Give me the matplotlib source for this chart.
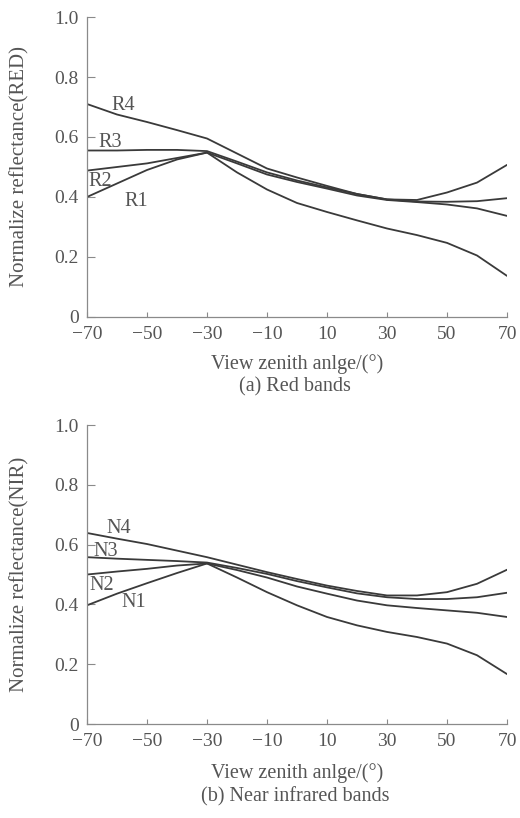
import matplotlib
matplotlib.use("Agg")
import matplotlib.pyplot as plt

# view zenith angle (degrees)
angles = [-70, -60, -50, -40, -30, -20, -10, 0, 10, 20, 30, 40, 50, 60, 70]

# (a) red bands
r1 = [0.400, 0.445, 0.490, 0.525, 0.548, 0.482, 0.425, 0.380, 0.350, 0.322, 0.295, 0.273, 0.247, 0.205, 0.137]
r2 = [0.488, 0.500, 0.512, 0.530, 0.548, 0.512, 0.475, 0.450, 0.428, 0.405, 0.390, 0.383, 0.375, 0.362, 0.337]
r3 = [0.555, 0.555, 0.557, 0.557, 0.553, 0.518, 0.482, 0.455, 0.432, 0.410, 0.392, 0.385, 0.384, 0.386, 0.396]
r4 = [0.710, 0.675, 0.650, 0.623, 0.595, 0.545, 0.495, 0.465, 0.437, 0.410, 0.392, 0.390, 0.415, 0.448, 0.507]

# (b) near infrared bands
n1 = [0.397, 0.436, 0.471, 0.505, 0.537, 0.490, 0.441, 0.397, 0.358, 0.330, 0.308, 0.291, 0.269, 0.230, 0.167]
n2 = [0.500, 0.510, 0.519, 0.530, 0.537, 0.515, 0.490, 0.460, 0.436, 0.413, 0.397, 0.388, 0.380, 0.372, 0.358]
n3 = [0.558, 0.553, 0.549, 0.545, 0.540, 0.522, 0.502, 0.478, 0.457, 0.437, 0.424, 0.418, 0.418, 0.424, 0.439]
n4 = [0.639, 0.620, 0.602, 0.580, 0.558, 0.533, 0.508, 0.485, 0.463, 0.445, 0.430, 0.430, 0.441, 0.469, 0.516]

red_names = ["R1", "R2", "R3", "R4"]
red_label_pos = [(-53.5, 0.385), (-65.7, 0.450), (-62.3, 0.583), (-58.0, 0.705)]
nir_names = ["N1", "N2", "N3", "N4"]
nir_label_pos = [(-54.5, 0.405), (-65.0, 0.463), (-63.7, 0.577), (-59.5, 0.653)]

xticks = [-70, -50, -30, -10, 10, 30, 50, 70]
xtick_labels = ["\u221270", "\u221250", "\u221230", "\u221210", "10", "30", "50", "70"]
yticks = [0, 0.2, 0.4, 0.6, 0.8, 1.0]
ytick_labels = ["0", "0.2", "0.4", "0.6", "0.8", "1.0"]

TEXT = "#555555"
LINE = "#3a3a3a"
AXIS = "#8a8a8a"
FS_TICK = 14
FS_LABEL = 14.5

plt.rcParams["font.family"] = ["Liberation Serif", "DejaVu Serif"]
plt.rcParams["font.size"] = FS_TICK

fig = plt.figure(figsize=(5.2, 8.18), dpi=100)
ax_top = fig.add_axes([0.1673, 0.6125, 0.8077, 0.3667])
ax_bot = fig.add_axes([0.1673, 0.1149, 0.8077, 0.3655])


def draw_panel(ax, series, names, label_pos, ylabel, xlab_y):
    for ys in series:
        ax.plot(angles, ys, color=LINE, lw=1.3, solid_capstyle="round")
    for name, (x, y) in zip(names, label_pos):
        ax.text(x, y, name, color=TEXT, fontsize=FS_LABEL, ha="center", va="center")

    ax.set_xlim(-70, 70)
    ax.set_ylim(0, 1.0)
    ax.spines["top"].set_visible(False)
    ax.spines["right"].set_visible(False)
    for s in ("left", "bottom"):
        ax.spines[s].set_color(AXIS)
        ax.spines[s].set_linewidth(0.9)

    ax.set_xticks(xticks)
    ax.set_xticklabels(xtick_labels)
    ax.set_yticks(yticks)
    ax.set_yticklabels(ytick_labels)
    ax.tick_params(axis="x", direction="in", length=3.5, width=0.8,
                   color=AXIS, labelcolor=TEXT, labelsize=FS_TICK, pad=6.2)
    ax.tick_params(axis="y", direction="in", length=5.5, width=0.8,
                   color=AXIS, labelcolor=TEXT, labelsize=FS_TICK, pad=6)

    ax.set_xlabel("View zenith anlge/(\u00b0)", color=TEXT, fontsize=FS_LABEL, va="center")
    ax.xaxis.set_label_coords(0.5, xlab_y)
    ax.set_ylabel(ylabel, color=TEXT, fontsize=FS_LABEL + 0.5, va="center")
    ax.yaxis.set_label_coords(-0.159, 0.5)


draw_panel(ax_top, [r1, r2, r3, r4], red_names, red_label_pos,
           "Normalize reflectance(RED)", (317 - 364) / 300)
draw_panel(ax_bot, [n1, n2, n3, n4], nir_names, nir_label_pos,
           "Normalize reflectance(NIR)", (724 - 773) / 300)

fig.text(0.5673, 1 - 387 / 818, "(a) Red bands", color=TEXT, fontsize=FS_LABEL,
         ha="center", va="center")
fig.text(0.5673, 1 - 797 / 818, "(b) Near infrared bands", color=TEXT, fontsize=FS_LABEL,
         ha="center", va="center")

fig.savefig("out.png", dpi=100, facecolor="white")
